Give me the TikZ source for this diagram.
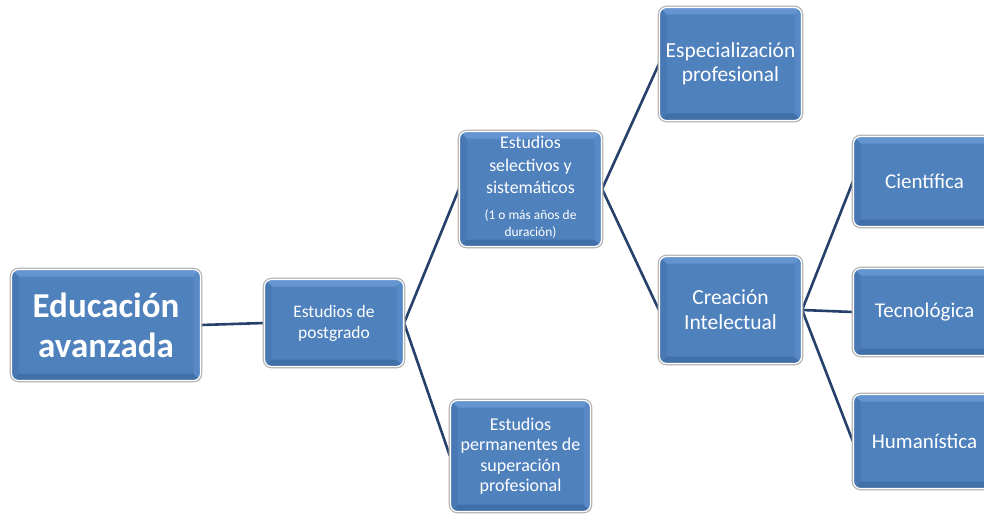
\documentclass[tikz,border=0pt]{standalone}
\usepackage{fontspec}
\setmainfont{Carlito}
\usetikzlibrary{shadows,backgrounds}
\definecolor{boxblue}{HTML}{4F81BD}
\definecolor{bevtop}{HTML}{6595D0}
\definecolor{bevbot}{HTML}{4170A8}
\definecolor{bevleft}{HTML}{4979B5}
\definecolor{bevright}{HTML}{5889C6}
\definecolor{linkcol}{HTML}{25406A}
\newcommand{\smalltxt}{\fontsize{13.4}{17}\selectfont}
\tikzset{
  box/.style={rectangle, rounded corners=7pt, fill=boxblue, draw=white, line width=1.2pt,
    drop shadow={shadow xshift=1.2pt, shadow yshift=-1.6pt, opacity=0.25},
    preaction={draw=black!30, line width=3.6pt},
    text=white, align=center, inner sep=2pt,
    path picture={
      \path (path picture bounding box.north west) coordinate (pnw)
            (path picture bounding box.north east) coordinate (pne)
            (path picture bounding box.south west) coordinate (psw)
            (path picture bounding box.south east) coordinate (pse);
      \fill[bevtop, sharp corners] (pnw) -- (pne) -- ([shift={(-7pt,-7pt)}]pne) -- ([shift={(7pt,-7pt)}]pnw) -- cycle;
      \fill[bevbot, sharp corners] (psw) -- (pse) -- ([shift={(-7pt,7pt)}]pse) -- ([shift={(7pt,7pt)}]psw) -- cycle;
      \fill[bevleft, sharp corners] (pnw) -- ([shift={(7pt,-7pt)}]pnw) -- ([shift={(7pt,7pt)}]psw) -- (psw) -- cycle;
      \fill[bevright, sharp corners] (pne) -- ([shift={(-7pt,-7pt)}]pne) -- ([shift={(-7pt,7pt)}]pse) -- (pse) -- cycle;
    }},
  link/.style={draw=linkcol, line width=2.6pt},
}
\begin{document}
\begin{tikzpicture}[x=1pt, y=-1pt]
\useasboundingbox (0,0) rectangle (984,516);
\clip (0,0) rectangle (984,516);
\node[box, minimum width=189pt, minimum height=111pt, font=\fontsize{35}{40}\selectfont\bfseries] (edu) at (106,325) {Educación\\avanzada};
\node[box, minimum width=139pt, minimum height=87pt, font=\fontsize{17.5}{21}\selectfont] (post) at (334,323) {Estudios de\\postgrado};
\node[box, minimum width=142pt, minimum height=115pt, font=\fontsize{17.8}{22.5}\selectfont] (sel) at (530.5,189) {Estudios\\selectivos y\\sistemáticos\\[3.5pt]{\smalltxt\begin{tabular}[t]{@{}c@{}}(1 o más años de\\duración)\end{tabular}}};
\node[box, minimum width=140pt, minimum height=111pt, font=\fontsize{18}{20.5}\selectfont] (perm) at (520.5,456) {Estudios\\permanentes de\\superación\\profesional};
\node[box, minimum width=142pt, minimum height=113pt, font=\fontsize{21.4}{24.5}\selectfont] (esp) at (730.5,64) {Especialización\\profesional};
\node[box, minimum width=142pt, minimum height=107pt, font=\fontsize{21.5}{25}\selectfont] (cre) at (730.5,310) {Creación\\Intelectual};
\node[box, minimum width=142pt, minimum height=90pt, font=\fontsize{21}{25}\selectfont] (cie) at (924.5,181.5) {Científica};
\node[box, minimum width=142pt, minimum height=87pt, font=\fontsize{21}{25}\selectfont] (tec) at (924.5,312) {Tecnológica};
\node[box, minimum width=142pt, minimum height=94pt, font=\fontsize{21}{25}\selectfont] (hum) at (924.5,441.5) {Humanística};
\begin{scope}[on background layer]
\draw[link] (edu.east) -- (post.west);
\draw[link] (post.east) -- (sel.west);
\draw[link] (post.east) -- (perm.west);
\draw[link] (sel.east) -- (esp.west);
\draw[link] (sel.east) -- (cre.west);
\draw[link] (cre.east) -- (cie.west);
\draw[link] (cre.east) -- (tec.west);
\draw[link] (cre.east) -- (hum.west);
\end{scope}
\end{tikzpicture}
\end{document}
